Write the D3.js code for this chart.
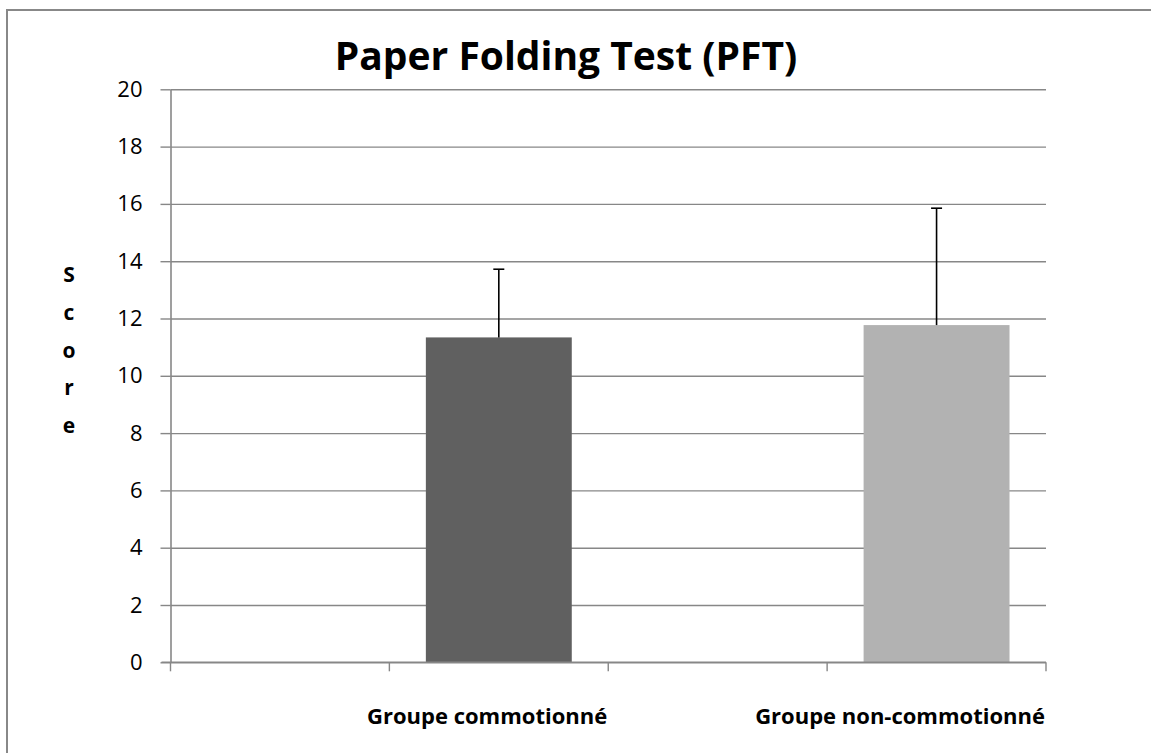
<!DOCTYPE html>
<html>
<script src="https://d3js.org/d3.v7.min.js"></script>

<head>
    <meta charset="utf-8">
    <style>
        body {
            margin: 0;
            background: #fff;
            font-family: "Open Sans", sans-serif;
        }

        svg {
            display: block;
        }
    </style>
</head>

<body>
</body>
<script>
    const groups = ["Groupe commotionné", "Groupe non-commotionné"];
    const means = [11.34, 11.77];
    const errors = [2.38, 4.08];
    const barColors = ["#606060", "#b2b2b2"];
    const yTicks = [0, 2, 4, 6, 8, 10, 12, 14, 16, 18, 20];
    // the category axis has four slots, the bars sit in the 2nd and 4th
    const slots = ["", groups[0], " ", groups[1]];

    const width = 1151,
        height = 753;
    const svg = d3.select("body").append("svg").attr("width", width).attr("height", height);

    // outer chart border (only top and left edges fall inside the picture)
    svg.append("rect")
        .attr("x", 7)
        .attr("y", 10)
        .attr("width", 1200)
        .attr("height", 800)
        .attr("fill", "none")
        .attr("stroke", "#888")
        .attr("stroke-width", 2);

    const plotLeft = 170.5,
        plotRight = 1046,
        plotTop = 89.3,
        plotBottom = 662.3;

    const y = d3.scaleLinear().domain([0, 20]).range([plotBottom, plotTop]);
    const x = d3.scaleBand()
        .domain(slots)
        .range([plotLeft, plotRight])
        .paddingInner(1 / 3)
        .paddingOuter(1 / 6);

    // gridlines
    svg.append("g")
        .attr("transform", `translate(${plotLeft},0)`)
        .call(d3.axisLeft(y).tickValues(yTicks).tickSize(-(plotRight - plotLeft)).tickFormat(""))
        .call(g => g.select(".domain").remove())
        .call(g => g.selectAll("line").attr("stroke", "#878787").attr("stroke-width", 1.4));

    // y axis
    svg.append("g")
        .attr("transform", `translate(${plotLeft},0)`)
        .call(d3.axisLeft(y).tickValues(yTicks).tickSize(10).tickPadding(18).tickSizeOuter(0))
        .call(g => g.select(".domain").attr("stroke", "#878787").attr("stroke-width", 1.6))
        .call(g => g.selectAll("line").attr("stroke", "#878787").attr("stroke-width", 1.4))
        .call(g => g.selectAll("text")
            .attr("font-family", "Open Sans, sans-serif")
            .attr("font-size", 22)
            .attr("fill", "#000"));

    // bars
    const slotOf = i => slots[i * 2 + 1];
    svg.selectAll(".bar")
        .data(means)
        .join("rect")
        .attr("class", "bar")
        .attr("x", (d, i) => x(slotOf(i)))
        .attr("width", x.bandwidth())
        .attr("y", d => y(d))
        .attr("height", d => y(0) - y(d))
        .attr("fill", (d, i) => barColors[i]);

    // error bars (upper only)
    means.forEach((m, i) => {
        const cx = x(slotOf(i)) + x.bandwidth() / 2;
        svg.append("line")
            .attr("x1", cx).attr("x2", cx)
            .attr("y1", y(m)).attr("y2", y(m + errors[i]))
            .attr("stroke", "#000").attr("stroke-width", 1.6);
        svg.append("line")
            .attr("x1", cx - 5.5).attr("x2", cx + 5.5)
            .attr("y1", y(m + errors[i])).attr("y2", y(m + errors[i]))
            .attr("stroke", "#000").attr("stroke-width", 1.6);
    });

    // x axis line and boundary ticks
    const half = x.step() * x.paddingInner() / 2;
    const bounds = slots.map(s => x(s) - half).concat([plotRight]);
    svg.append("line")
        .attr("x1", plotLeft - 9).attr("x2", plotRight)
        .attr("y1", plotBottom).attr("y2", plotBottom)
        .attr("stroke", "#878787").attr("stroke-width", 1.6);
    bounds.forEach(b => {
        svg.append("line")
            .attr("x1", b).attr("x2", b)
            .attr("y1", plotBottom).attr("y2", plotBottom + 9)
            .attr("stroke", "#878787").attr("stroke-width", 1.4);
    });

    // category labels, right aligned to the end of their slot
    groups.forEach((g, i) => {
        svg.append("text")
            .attr("x", x(slotOf(i)) + x.bandwidth() + half - 1)
            .attr("y", 724)
            .attr("text-anchor", "end")
            .attr("font-size", 22)
            .attr("font-weight", "bold")
            .text(g);
    });

    // title
    svg.append("text")
        .attr("x", 566)
        .attr("y", 70)
        .attr("text-anchor", "middle")
        .attr("font-size", 39)
        .attr("font-weight", "bold")
        .text("Paper Folding Test (PFT)");

    // vertical stacked axis title
    "Score".split("").forEach((c, i) => {
        svg.append("text")
            .attr("x", 69)
            .attr("y", 282 + i * 37.8)
            .attr("text-anchor", "middle")
            .attr("font-size", 21)
            .attr("font-weight", "bold")
            .text(c);
    });
</script>

</html>
